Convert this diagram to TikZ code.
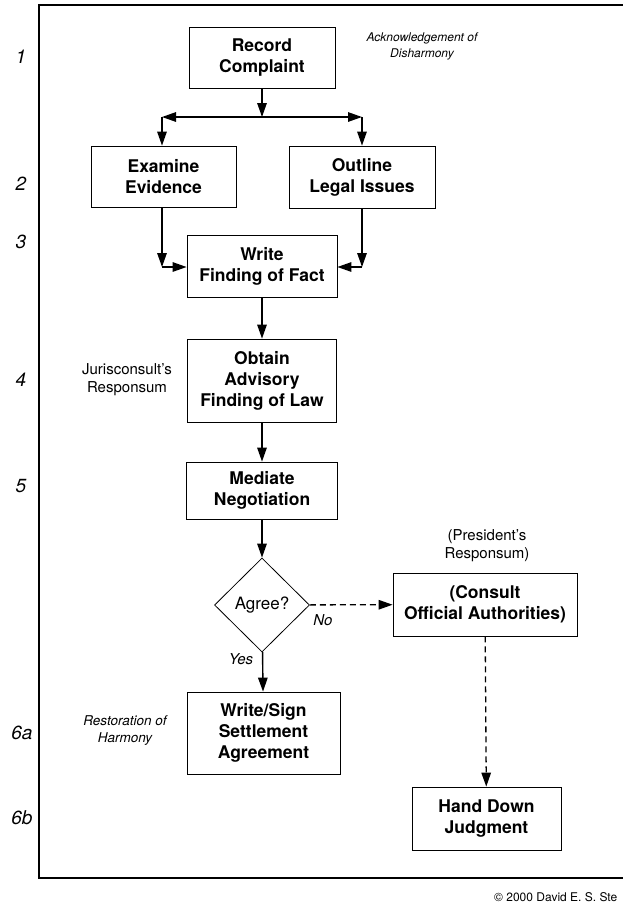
\documentclass[tikz,border=0pt]{standalone}
\usepackage{fontspec}
\setmainfont{TeX Gyre Heros}
\usetikzlibrary{arrows.meta,shapes.geometric}

\begin{document}
\begin{tikzpicture}[x=1pt,y=-1pt]
\tikzset{
  procbox/.style={rectangle,draw=black,line width=0.8pt,inner sep=2pt,align=center,font=\fontsize{17.5}{21}\selectfont\bfseries},
  decision/.style={diamond,draw=black,line width=0.8pt,minimum width=95pt,minimum height=94pt,inner sep=0pt,font=\fontsize{17}{20}\selectfont},
  flowedge/.style={draw=black,line width=1.4pt,-{Triangle[length=14pt,width=9.5pt]}},
  dashedge/.style={flowedge,line width=1.3pt,dash pattern=on 6pt off 4pt},
  sidenote/.style={align=center,inner sep=0pt,font=\fontsize{15}{18}\selectfont},
  slantnote/.style={align=center,inner sep=0pt,font=\fontsize{13.5}{17}\selectfont\itshape},
  rownum/.style={inner sep=0pt,font=\fontsize{19}{22}\selectfont\itshape}
}
\useasboundingbox (0,0) rectangle (622,903);
\draw[line width=1.5pt] (39,5) rectangle (660,878);
% row numbers
\node[rownum] (r_1) at (21,57) {1};
\node[rownum] (r_2) at (21,184) {2};
\node[rownum] (r_3) at (21,242) {3};
\node[rownum] (r_4) at (21,380) {4};
\node[rownum] (r_5) at (21,486) {5};
\node[rownum] (r_6a) at (22,733) {6a};
\node[rownum] (r_6b) at (22,818) {6b};
% steps
\node[procbox,minimum width=146pt,minimum height=61pt] (n_rec) at (262,57.5) {Record\\Complaint};
\node[procbox,minimum width=145pt,minimum height=61pt] (n_exam) at (163.5,176.5) {Examine\\Evidence};
\node[procbox,minimum width=146pt,minimum height=62pt] (n_outl) at (362,177) {Outline\\Legal Issues};
\node[procbox,minimum width=150pt,minimum height=62pt] (n_fact) at (262,266) {Write\\Finding of Fact};
\node[procbox,minimum width=149pt,minimum height=83pt] (n_law) at (262,380.5) {Obtain\\Advisory\\Finding of Law};
\node[procbox,minimum width=151pt,minimum height=57pt] (n_med) at (262,490.5) {Mediate\\Negotiation};
\node[decision] (n_agree) at (262,605) {Agree?};
\node[procbox,minimum width=184pt,minimum height=63pt] (n_cons) at (485,604.5) {(Consult\\Official Authorities)};
\node[procbox,minimum width=153pt,minimum height=82pt] (n_sign) at (263.5,733) {Write/Sign\\Settlement\\Agreement};
\node[procbox,minimum width=149pt,minimum height=63pt] (n_judg) at (486.5,818.5) {Hand Down\\Judgment};
% notes
\node[slantnote,font=\fontsize{12}{16}\selectfont\itshape] (t_ack) at (422,46) {Acknowledgement of\\Disharmony};
\node[sidenote] (t_juris) at (127,380) {Jurisconsult's\\Responsum};
\node[sidenote] (t_pres) at (487,546) {(President's\\Responsum)};
\node[slantnote] (t_rest) at (125,731) {Restoration of\\Harmony};
\node[slantnote,font=\fontsize{15}{18}\selectfont\itshape] (t_no) at (323,620) {No};
\node[slantnote,font=\fontsize{15}{18}\selectfont\itshape] (t_yes) at (241,659) {Yes};
\node[anchor=west,inner sep=0pt,font=\fontsize{12}{14}\selectfont] (t_copy) at (494,897) {© 2000 David E. S. Ste};
% connectors
\coordinate (c_split) at (262,117);
\coordinate (c_left) at (162,117);
\coordinate (c_right) at (362,117);
\coordinate (c_lowl) at (162,267);
\coordinate (c_lowr) at (362,267);
\draw[flowedge] (n_rec) -- (c_split);
\draw[flowedge] (c_split) -- (c_left);
\draw[flowedge] (c_split) -- (c_right);
\draw[flowedge] (c_left) -- (c_left |- n_exam.north);
\draw[flowedge] (c_right) -- (c_right |- n_outl.north);
\draw[flowedge] (c_left |- n_exam.south) -- (c_lowl);
\draw[flowedge] (c_right |- n_outl.south) -- (c_lowr);
\draw[flowedge] (c_lowl) -- (n_fact.west |- c_lowl);
\draw[flowedge] (c_lowr) -- (n_fact.east |- c_lowr);
\draw[flowedge] (n_fact) -- (n_law);
\draw[flowedge] (n_law) -- (n_med);
\draw[flowedge] (n_med) -- (n_agree);
\draw[flowedge] (n_agree) -- (n_sign);
\draw[dashedge] (n_agree) -- (n_cons);
\draw[dashedge] (n_cons) -- (n_judg);
\end{tikzpicture}
\end{document}
